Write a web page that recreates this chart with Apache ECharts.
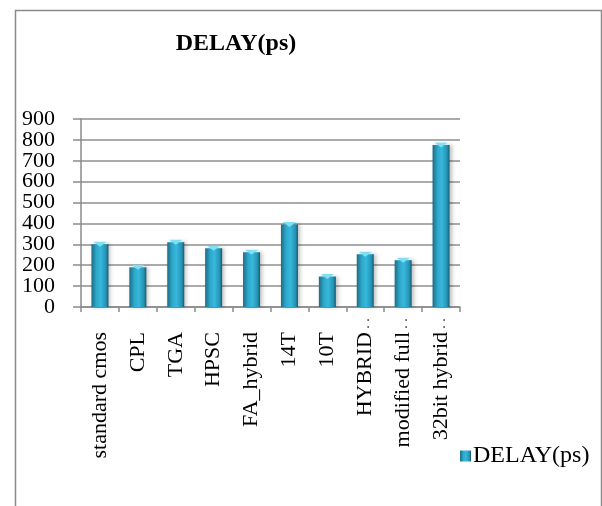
<!DOCTYPE html>
<html>
<head>
<meta charset="utf-8">
<script src="https://cdn.jsdelivr.net/npm/echarts@6/dist/echarts.min.js"></script>
<style>
html,body{margin:0;padding:0;background:#fff;}
#chart{width:602px;height:506px;}
</style>
</head>
<body>
<div id="chart"></div>
<script>
var categories = ['standard cmos', 'CPL', 'TGA', 'HPSC', 'FA_hybrid', '14T', '10T', 'HYBRID\u2026', 'modified full\u2026', '32bit hybrid\u2026'];
var delayValues = [300, 190, 310, 281, 262, 395, 146, 252, 224, 776];
var yTicks = [0, 100, 200, 300, 400, 500, 600, 700, 800, 900];
var seriesName = 'DELAY(ps)';
var titleText = 'DELAY(ps)';

var serif = "'Liberation Serif', 'Times New Roman', serif";
var chart = echarts.init(document.getElementById('chart'), null, {renderer: 'canvas'});

// two overlaid label layers (even / odd ticks) so the tightly packed labels are all shown
function yLabel(parity) {
  return function (v) {
    var i = yTicks.indexOf(v);
    return (i >= 0 && i % 2 === parity) ? String(v) : '';
  };
}
var yLabelStyle = {fontFamily: serif, fontSize: 22, color: '#000', margin: 26,
  showMinLabel: true, showMaxLabel: true};

var option = {
  backgroundColor: '#ffffff',
  animation: false,
  title: {
    text: titleText,
    left: 231,
    top: 27,
    textAlign: 'center',
    textStyle: {fontFamily: serif, fontSize: 24, fontWeight: 'bold', color: '#000'}
  },
  legend: {
    data: [seriesName],
    left: 455,
    top: 439,
    itemWidth: 11,
    itemHeight: 11,
    itemGap: 2,
    icon: 'rect',
    textStyle: {fontFamily: serif, fontSize: 24, color: '#000', padding: [0,0,0,-3]}
  },
  grid: {left: 81, right: 142, top: 119, bottom: 199, containLabel: false},
  xAxis: {
    type: 'category',
    data: categories,
    axisLine: {lineStyle: {color: '#8a8a8a', width: 1.5}},
    axisTick: {show: true, length: 5, lineStyle: {color: '#8a8a8a', width: 1.5}},
    axisLabel: {
      rotate: 90,
      interval: 0,
      margin: 8,
      hideOverlap: false,
      formatter: function (v) {
        if (v.indexOf('\u2026') >= 0) {
          return '{n|' + v.replace('\u2026', '') + '}{d|. .}';
        }
        return '{n|' + v + '}{p|}';
      },
      rich: {
        n: {fontFamily: serif, fontSize: 22, color: '#000'},
        d: {fontFamily: serif, fontSize: 14, color: '#000', width: 17, align: 'left'},
        p: {width: 17}
      }
    }
  },
  yAxis: [
    {
      type: 'value',
      min: 0,
      max: 900,
      interval: 100,
      position: 'left',
      axisLine: {show: true, lineStyle: {color: '#8a8a8a', width: 1.5}},
      axisTick: {show: true, length: 8, lineStyle: {color: '#8a8a8a', width: 1.5}},
      axisLabel: Object.assign({formatter: yLabel(0)}, yLabelStyle),
      splitLine: {show: true, lineStyle: {color: '#8f8f8f', width: 1.5}}
    },
    {
      type: 'value',
      min: 0,
      max: 900,
      interval: 100,
      position: 'left',
      offset: 0,
      axisLine: {show: false},
      axisTick: {show: false},
      axisLabel: Object.assign({formatter: yLabel(1)}, yLabelStyle),
      splitLine: {show: false}
    }
  ],
  series: [
    {
      name: seriesName,
      type: 'bar',
      data: delayValues,
      barWidth: 17,
      itemStyle: {
        color: new echarts.graphic.LinearGradient(0, 0, 1, 0, [
          {offset: 0, color: '#1c6d86'},
          {offset: 0.3, color: '#2ea8cb'},
          {offset: 0.55, color: '#37b8dc'},
          {offset: 0.85, color: '#2593b4'},
          {offset: 1, color: '#17596e'}
        ]),
        shadowColor: 'rgba(0,0,0,0.25)',
        shadowBlur: 4,
        shadowOffsetX: 2,
        shadowOffsetY: 0
      }
    },
    {
      name: 'cap',
      type: 'pictorialBar',
      data: delayValues,
      symbol: 'path://M0,0 L10,0 L5,4 Z',
      symbolSize: [13, 5],
      symbolPosition: 'end',
      symbolOffset: [0, '-50%'],
      barGap: '-100%',
      z: 3,
      silent: true,
      itemStyle: {color: '#7fe0f5'},
      legendHoverLink: false
    }
  ],
  graphic: [
    {
      type: 'rect',
      left: 13, top: 8,
      shape: {x: 0, y: 0, width: 586, height: 530},
      style: {fill: 'none', stroke: '#8a8a8a', lineWidth: 1.5},
      silent: true
    }
  ]
};
chart.setOption(option);
</script>
</body>
</html>
